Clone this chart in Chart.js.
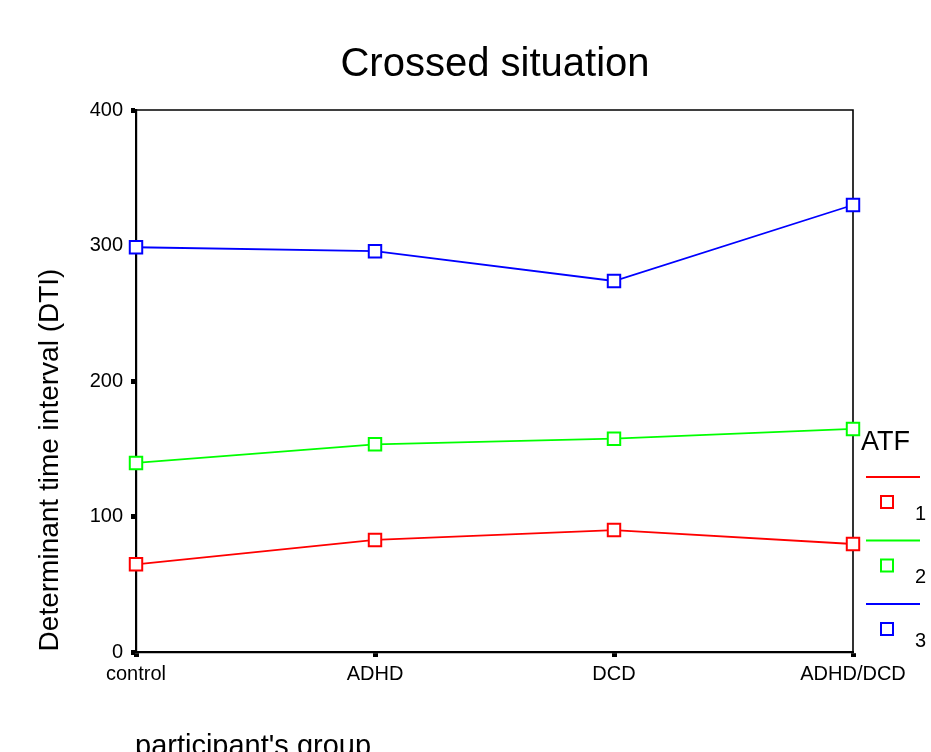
<!DOCTYPE html>
<html>
<head>
<meta charset="utf-8">
<script src="https://cdn.jsdelivr.net/npm/chart.js@4"></script>
<style>
  html, body { margin: 0; padding: 0; background: #fff; }
  #wrap { width: 931px; height: 752px; }
</style>
</head>
<body>
<div id="wrap"><canvas id="myChart"></canvas></div>
<script>
var groups = ['control', 'ADHD', 'DCD', 'ADHD/DCD'];
var atf1 = [64.7, 82.7, 90.0, 79.7];
var atf2 = [139.5, 153.3, 157.4, 164.6];
var atf3 = [298.7, 295.8, 273.8, 329.9];
var seriesNames = ['1', '2', '3'];
var seriesColors = ['#ff0000', '#00ff00', '#0000ff'];
var yTicks = [0, 100, 200, 300, 400];

var FONT = '"Liberation Sans", Arial, sans-serif';

function makeSet(label, data, color) {
  return {
    label: label,
    data: data,
    borderColor: color,
    backgroundColor: '#ffffff',
    borderWidth: 1.8,
    pointStyle: 'rect',
    pointRadius: 8.8,
    pointHoverRadius: 8.8,
    pointBorderWidth: 2,
    pointBorderColor: color,
    pointBackgroundColor: '#ffffff',
    tension: 0
  };
}

// title, axis titles, frame and the ATF legend
var decor = {
  id: 'decor',
  beforeDatasetsDraw: function(chart) {
    var c = chart.ctx, a = chart.chartArea;
    c.save();
    c.strokeStyle = '#000';
    c.lineWidth = 1.6;
    c.beginPath();
    c.moveTo(a.left, a.top);
    c.lineTo(a.right, a.top);
    c.lineTo(a.right, a.bottom);
    c.stroke();
    c.restore();
  },
  afterDraw: function(chart) {
    var c = chart.ctx;
    c.save();
    c.fillStyle = '#000';
    c.textBaseline = 'middle';
    c.textAlign = 'center';
    c.font = '40px ' + FONT;
    c.fillText('Crossed situation', 495, 65);

    c.textAlign = 'left';
    c.textBaseline = 'alphabetic';
    c.font = '29px ' + FONT;
    c.fillText("participant's group", 135, 755);

    c.save();
    c.translate(58, 460);
    c.rotate(-Math.PI / 2);
    c.textAlign = 'center';
    c.font = '28px ' + FONT;
    c.fillText('Determinant time interval (DTI)', 0, 0);
    c.restore();

    // legend
    c.textAlign = 'left';
    c.textBaseline = 'middle';
    c.font = '27px ' + FONT;
    c.fillText('ATF', 861, 443);
    c.font = '20px ' + FONT;
    for (var i = 0; i < seriesNames.length; i++) {
      var y0 = 477 + i * 63.5;
      c.strokeStyle = seriesColors[i];
      c.lineWidth = 1.8;
      c.beginPath();
      c.moveTo(866, y0);
      c.lineTo(920, y0);
      c.stroke();
      c.lineWidth = 2;
      c.strokeRect(881, y0 + 19, 12, 12);
      c.fillStyle = '#000';
      c.fillText(seriesNames[i], 915, y0 + 37);
    }
    c.restore();
  }
};

var ctx = document.getElementById('myChart').getContext('2d');
var myChart = new Chart(ctx, {
  type: 'line',
  data: {
    labels: groups,
    datasets: [
      makeSet(seriesNames[0], atf1, seriesColors[0]),
      makeSet(seriesNames[1], atf2, seriesColors[1]),
      makeSet(seriesNames[2], atf3, seriesColors[2])
    ]
  },
  options: {
    responsive: true,
    maintainAspectRatio: false,
    animation: false,
    layout: { padding: { left: 0, right: 78, top: 110, bottom: 0 } },
    plugins: {
      legend: { display: false },
      title: { display: false },
      tooltip: { enabled: false }
    },
    scales: {
      x: {
        offset: false,
        afterFit: function(s) { s.height = 100; },
        border: { display: true, color: '#000', width: 2.2 },
        grid: { display: true, drawOnChartArea: false, color: '#000', tickLength: 5, tickWidth: 5 },
        ticks: { color: '#000', padding: 5, maxRotation: 0, font: { family: FONT, size: 20 } }
      },
      y: {
        min: 0,
        max: 400,
        afterFit: function(s) { s.width = 136; },
        afterBuildTicks: function(s) { s.ticks = yTicks.map(function(v) { return { value: v }; }); },
        border: { display: true, color: '#000', width: 2.2 },
        grid: { display: true, drawOnChartArea: false, color: '#000', tickLength: 5, tickWidth: 5 },
        ticks: { color: '#000', padding: 8, font: { family: FONT, size: 20 } }
      }
    }
  },
  plugins: [decor]
});
</script>
</body>
</html>
